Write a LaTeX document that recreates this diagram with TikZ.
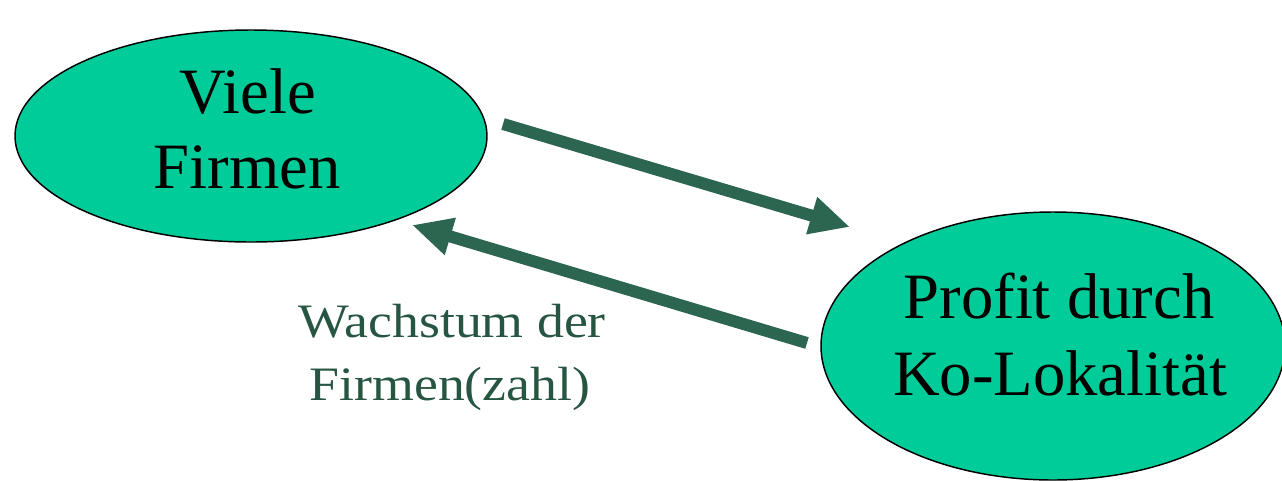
\documentclass[tikz,border=0pt]{standalone}
\usepackage{fontspec}
\usepackage{graphicx}
\setmainfont{Liberation Serif}
\usetikzlibrary{shapes.geometric,arrows.meta}
\definecolor{bubble}{HTML}{00CC99}
\definecolor{arrowgreen}{HTML}{2C6550}
\definecolor{labelgreen}{HTML}{265641}
\tikzset{
  bubble/.style={ellipse, draw=black, line width=1.1pt, fill=bubble, inner sep=0pt},
  bigtext/.style={anchor=base, inner sep=0pt, font=\fontsize{48.5pt}{56pt}\selectfont},
  labtext/.style={anchor=base, inner sep=0pt, text=labelgreen, font=\fontsize{36pt}{42pt}\selectfont},
  fatarrow/.style={draw=arrowgreen, line width=9pt, -{Triangle[length=30pt,width=27pt]}, fill=arrowgreen}
}
\begin{document}
\begin{tikzpicture}[x=0.75pt,y=-0.75pt]
\useasboundingbox (0,0) rectangle (1282,480);
\node[bubble, minimum width=354pt, minimum height=159pt] (viele) at (251,136) {};
\node[bubble, minimum width=348pt, minimum height=201pt] (profit) at (1053,346) {};
\node[bigtext] (v1) at (248,113) {Viele};
\node[bigtext] (v2) at (247,188) {Firmen};
\node[bigtext] (p1) at (1059,318) {Profit durch};
\node[bigtext] (p2) at (1060,395) {Ko-Lokalität};
\node[labtext] (l1) at (452,337) {\scalebox{1.12}[1]{Wachstum der}};
\node[labtext] (l2) at (450,400) {\scalebox{1.12}[1]{Firmen(zahl)}};
\coordinate (a1s) at (503,124);
\coordinate (a1e) at (850,227);
\coordinate (a2s) at (807,343);
\coordinate (a2e) at (412,225);
\draw[fatarrow] (a1s) -- (a1e);
\draw[fatarrow] (a2s) -- (a2e);
\end{tikzpicture}
\end{document}
